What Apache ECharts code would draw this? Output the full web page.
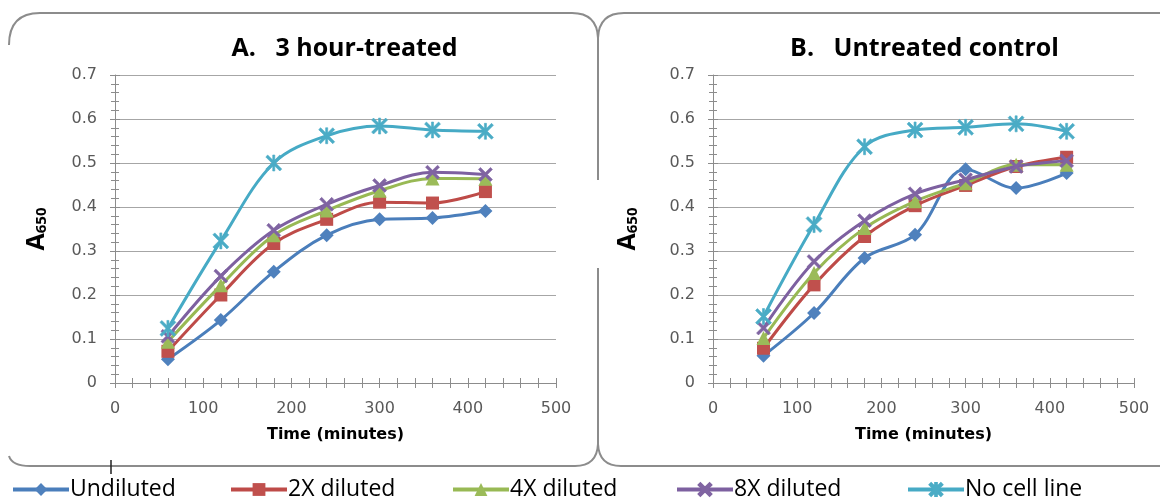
<!DOCTYPE html>
<html lang="en">

<head>
  <meta charset="UTF-8">
  <title>A650 growth curves</title>
  <script src="https://cdn.jsdelivr.net/npm/echarts@6/dist/echarts.min.js"></script>
</head>

<body style="margin:0;background:#fff;">
  <div id="chart" style="width:1160px;height:503px;"></div>
</body>

</html>
<script type="text/javascript">
  // time points (minutes)
  let times = [60, 120, 180, 240, 300, 360, 420];
  let seriesNames = ['Undiluted', '2X diluted', '4X diluted', '8X diluted', 'No cell line'];
  let panelTitles = ['A.   3 hour-treated', 'B.   Untreated control'];

  // A. 3 hour-treated
  let treatedUndiluted = [0.054, 0.143, 0.253, 0.336, 0.372, 0.375, 0.391];
  let treated2x = [0.072, 0.200, 0.317, 0.372, 0.411, 0.409, 0.435];
  let treated4x = [0.094, 0.222, 0.336, 0.392, 0.437, 0.465, 0.464];
  let treated8x = [0.106, 0.243, 0.347, 0.406, 0.449, 0.479, 0.474];
  let treatedNoCell = [0.124, 0.323, 0.500, 0.562, 0.584, 0.575, 0.572];

  // B. Untreated control
  let controlUndiluted = [0.062, 0.159, 0.284, 0.337, 0.486, 0.443, 0.477];
  let control2x = [0.079, 0.223, 0.333, 0.403, 0.449, 0.492, 0.513];
  let control4x = [0.102, 0.250, 0.352, 0.413, 0.454, 0.496, 0.496];
  let control8x = [0.125, 0.276, 0.369, 0.430, 0.462, 0.492, 0.505];
  let controlNoCell = [0.151, 0.360, 0.537, 0.575, 0.581, 0.589, 0.572];

  let panelData = [
    [treatedUndiluted, treated2x, treated4x, treated8x, treatedNoCell],
    [controlUndiluted, control2x, control4x, control8x, controlNoCell]
  ];

  let lineColors = ['#4A7EBB', '#BE4B48', '#98B954', '#7D60A0', '#46AAC5'];
  let markColors = ['#4F81BD', '#C0504D', '#9BBB59', '#8064A2', '#4BACC6'];
  let xShape = 'path://M0,1.4L1.4,0L5,3.6L8.6,0L10,1.4L6.4,5L10,8.6L8.6,10L5,6.4L1.4,10L0,8.6L3.6,5Z';
  let starShape = 'path://M0,1.2L1.2,0L5,3.8L8.8,0L10,1.2L6.2,5L10,8.8L8.8,10L5,6.2L1.2,10L0,8.8L3.8,5ZM4.35,0L5.65,0L5.65,10L4.35,10Z';
  let symbols = ['diamond', 'rect', 'triangle', xShape, starShape];
  let symbolSizes = [14, 13, 14, 14, 16];

  let font = '"Open Sans", "Liberation Sans", sans-serif';
  let tickFont = '"DejaVu Sans", sans-serif';
  let grids = [
    { left: 115, top: 75, width: 441, height: 308 },
    { left: 713, top: 75, width: 421, height: 308 }
  ];
  let gridCenters = [115 + 441 / 2, 713 + 421 / 2];

  let xAxes = [];
  let yAxes = [];
  let series = [];
  let titles = [];

  for (let g = 0; g < 2; g++) {
    titles.push({
      text: panelTitles[g],
      left: gridCenters[g] + (g === 0 ? 4 : -4),
      top: 31,
      textAlign: 'center',
      textStyle: { fontFamily: font, fontSize: 25, fontWeight: 'bold', color: '#000' }
    });
    xAxes.push({
      gridIndex: g,
      type: 'value',
      min: 0,
      max: 500,
      interval: 100,
      name: 'Time (minutes)',
      nameLocation: 'middle',
      nameGap: 44,
      nameTextStyle: { fontFamily: tickFont, fontSize: 16, fontWeight: 'bold', color: '#000' },
      axisLine: { show: true, onZero: false, lineStyle: { color: '#8c8c8c', width: 1 } },
      axisTick: { show: true, length: 5, lineStyle: { color: '#8c8c8c' } },
      minorTick: { show: true, splitNumber: 5, length: 5, lineStyle: { color: '#8c8c8c' } },
      splitLine: { show: false },
      axisLabel: { margin: 18, fontFamily: tickFont, fontSize: 16, color: '#595959' }
    });
    // overlay axis: ticks on the inside so they cross the axis line
    xAxes.push({
      gridIndex: g,
      type: 'value',
      min: 0,
      max: 500,
      interval: 100,
      position: 'bottom',
      axisLine: { show: false },
      axisTick: { show: true, inside: true, length: 5, lineStyle: { color: '#8c8c8c' } },
      minorTick: { show: true, splitNumber: 5, length: 5, lineStyle: { color: '#8c8c8c' } },
      splitLine: { show: false },
      axisLabel: { show: false }
    });
    yAxes.push({
      gridIndex: g,
      type: 'value',
      min: 0,
      max: 0.7,
      interval: 0.1,
      name: '{a|A}{s|650}',
      nameLocation: 'middle',
      nameGap: g === 0 ? 66 : 73,
      nameTextStyle: {
        rich: {
          a: { fontFamily: font, fontSize: 25, fontWeight: 'bold', color: '#000' },
          s: { fontFamily: font, fontSize: 15, fontWeight: 'bold', color: '#000', padding: [10, 0, 0, 0] }
        }
      },
      axisLine: { show: true, lineStyle: { color: '#8c8c8c', width: 1 } },
      axisTick: { show: true, length: 5, lineStyle: { color: '#8c8c8c' } },
      minorTick: { show: true, splitNumber: 5, length: 4, lineStyle: { color: '#8c8c8c' } },
      splitLine: { show: true, lineStyle: { color: '#a6a6a6', width: 1 } },
      axisLabel: { margin: 18, fontFamily: tickFont, fontSize: 16, color: '#595959' }
    });
    yAxes.push({
      gridIndex: g,
      type: 'value',
      min: 0,
      max: 0.7,
      interval: 0.1,
      position: 'left',
      axisLine: { show: false },
      axisTick: { show: true, inside: true, length: 5, lineStyle: { color: '#8c8c8c' } },
      minorTick: { show: true, splitNumber: 5, length: 4, lineStyle: { color: '#8c8c8c' } },
      splitLine: { show: false },
      axisLabel: { show: false }
    });

    for (let s = 0; s < seriesNames.length; s++) {
      series.push({
        name: seriesNames[s],
        type: 'line',
        xAxisIndex: g * 2,
        yAxisIndex: g * 2,
        smooth: 0.35,
        symbol: symbols[s],
        symbolSize: symbolSizes[s],
        z: 3 + s,
        lineStyle: { color: lineColors[s], width: 3 },
        itemStyle: { color: markColors[s], borderColor: markColors[s], borderWidth: s >= 3 ? 0.6 : 0 },
        data: times.map(function (t, i) { return [t, panelData[g][s][i]]; })
      });
    }
  }

  // one legend per entry so each can sit where it is in the picture
  let legendLefts = [11, 229, 451, 675, 906];
  let legends = seriesNames.map(function (name, i) {
    return {
      data: [name],
      left: legendLefts[i],
      top: 478,
      padding: 0,
      itemWidth: 56,
      itemHeight: 16,
      itemGap: 0,
      selectedMode: false,
      lineStyle: { width: 4 },
      textStyle: { fontFamily: font, fontSize: 23, color: '#000', padding: [0, 0, 0, -4] }
    };
  });

  // panel frames: straight pieces plus rounded corners
  let frameStyle = { stroke: '#8c8c8c', lineWidth: 2, fill: null };
  function seg(x1, y1, x2, y2) {
    return { type: 'line', silent: true, shape: { x1: x1, y1: y1, x2: x2, y2: y2 }, style: frameStyle };
  }
  function corner(x1, y1, cx, cy, x2, y2) {
    return { type: 'bezierCurve', silent: true, shape: { x1: x1, y1: y1, cpx1: cx, cpy1: cy, x2: x2, y2: y2 }, style: frameStyle };
  }
  let frame = [
    corner(9, 45, 9, 13, 40, 13),
    seg(40, 13, 572, 13),
    corner(572, 13, 597, 13, 598, 38),
    seg(598, 38, 598, 180),
    seg(598, 268, 598, 444),
    corner(598, 444, 597, 466, 575, 466),
    seg(575, 466, 30, 466),
    corner(30, 466, 12, 466, 9, 456),
    corner(598, 38, 599, 13, 624, 13),
    seg(624, 13, 1160, 13),
    corner(598, 444, 599, 466, 621, 466),
    seg(621, 466, 1160, 466),
    { type: 'line', silent: true, shape: { x1: 111, y1: 460, x2: 111, y2: 474 }, style: { stroke: '#222', lineWidth: 1.5 } }
  ];

  let chart = echarts.init(document.getElementById('chart'));
  chart.setOption({
    animation: false,
    backgroundColor: '#fff',
    title: titles,
    grid: grids,
    xAxis: xAxes,
    yAxis: yAxes,
    legend: legends,
    graphic: frame,
    series: series
  });
</script>
